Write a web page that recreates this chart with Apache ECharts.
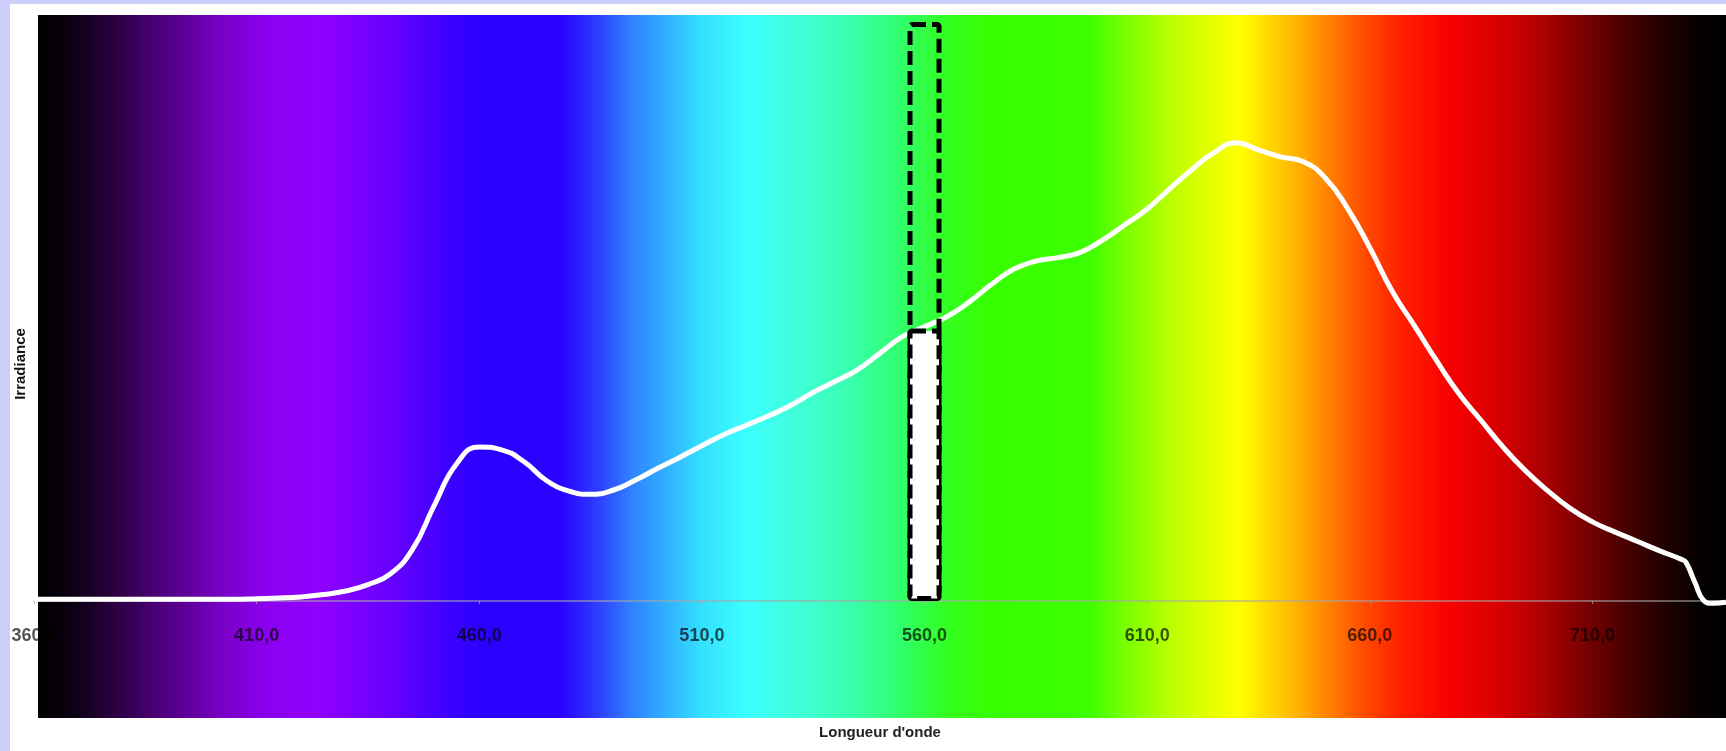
<!DOCTYPE html>
<html>
<head>
<meta charset="utf-8">
<script src="https://cdn.jsdelivr.net/npm/echarts@6/dist/echarts.min.js"></script>
<style>
  html, body { margin: 0; padding: 0; background: #cdcdfb; }
  #chart-container { width: 1726px; height: 751px; }
</style>
</head>
<body>
<div id="chart-container"></div>
<script>
var dom = document.getElementById('chart-container');
var myChart = echarts.init(dom);

// spectre mesuré (nm, irradiance relative)
var wavelengths = [360, 365, 370, 375, 380, 385, 390, 395, 400, 405, 410, 415, 420, 425, 430, 435, 440, 445,
  450, 455, 460, 465, 470, 475, 480, 485, 490, 495, 500, 505, 510, 515, 520, 525, 530, 535, 540, 545,
  550, 555, 560, 565, 570, 575, 580, 585, 590, 595, 600, 605, 610, 615, 620, 625, 630, 635, 640, 645,
  650, 655, 660, 665, 670, 675, 680, 685, 690, 695, 700, 705, 710, 715, 720, 725, 730, 731, 733, 735, 737, 740];
var irradiance = [0.3, 0.3, 0.3, 0.3, 0.3, 0.3, 0.3, 0.3, 0.3, 0.3, 0.4, 0.5, 0.7, 1.1, 1.7, 2.8, 4.6, 8.8,
  16.5, 23.5, 26.3, 25.8, 23.8, 20.6, 18.8, 18.2, 18.9, 20.6, 22.6, 24.5, 26.5, 28.4, 30.0, 31.6, 33.4, 35.6, 37.5, 39.5,
  42.3, 45.1, 46.8, 48.5, 51.0, 54.0, 56.6, 58.0, 58.6, 59.5, 61.6, 64.2, 66.9, 70.3, 73.6, 76.5, 78.2, 77.0, 75.8, 75.0,
  72.2, 67.0, 60.3, 52.9, 47.0, 41.0, 35.4, 30.8, 26.2, 22.2, 18.8, 15.8, 13.5, 11.8, 10.2, 8.6, 7.1, 6.6, 3.2, 0.1, -0.4, -0.2];

// bande sélectionnée autour de 560 nm
var bandNm = [560];
var bandFrame = [98.8];
var bandValue = [46.5];

// couleurs du fond (nm -> couleur)
var spectrumNm = [360.9, 368, 375, 384, 393, 402, 413, 424, 442, 453, 460, 478, 487, 494, 502, 510, 520, 532,
  543, 554, 565, 575, 597, 606, 615, 622, 631, 638, 644, 651, 658, 667, 678, 689, 698, 707, 716, 725, 734, 740];
var spectrumColors = ['#000000', '#0a0010', '#200030', '#400062', '#5a0092', '#7800c4', '#8c00f2', '#9000ff',
  '#6200ff', '#3c00ff', '#2c00ff', '#2a00ff', '#2e40ff', '#2f80ff', '#30b0ff', '#34e0ff', '#3cffff', '#40ffd8',
  '#38ffb0', '#30ff70', '#33ff20', '#38ff00', '#3cff00', '#80ff00', '#b8ff00', '#dcff00', '#ffff00', '#ffd400',
  '#ffb000', '#ff8000', '#ff5000', '#ff2000', '#f80000', '#d80000', '#b00000', '#800000', '#500000', '#250000',
  '#050000', '#000000'];

var stops = spectrumNm.map(function (nm, i) {
  return { offset: (nm - spectrumNm[0]) / (spectrumNm[spectrumNm.length - 1] - spectrumNm[0]), color: spectrumColors[i] };
});

var option = {
  backgroundColor: '#cdcdfb',
  animation: false,
  graphic: [
    { type: 'rect', z: -20, shape: { x: 10, y: 4, width: 1716, height: 747 }, style: { fill: '#ffffff' } },
    {
      type: 'rect', z: -10,
      shape: { x: 38, y: 15, width: 1688, height: 703 },
      style: { fill: new echarts.graphic.LinearGradient(0, 0, 1, 0, stops) }
    }
  ],
  grid: { left: 34, right: 0, top: 15, bottom: 150 },
  xAxis: {
    type: 'value',
    min: 360,
    max: 740,
    interval: 50,
    name: "Longueur d'onde",
    nameLocation: 'middle',
    nameGap: 124,
    nameTextStyle: { fontFamily: 'Liberation Sans', fontWeight: 'bold', fontSize: 15, color: '#222' },
    axisLine: { onZero: false, lineStyle: { color: 'rgba(165,165,165,0.75)', width: 1.5 } },
    axisTick: { show: true, length: 3, lineStyle: { color: 'rgba(165,165,165,0.75)' } },
    axisLabel: {
      showMaxLabel: false,
      margin: 26,
      fontFamily: 'Liberation Sans',
      fontWeight: 'bold',
      fontSize: 18,
      color: 'rgba(0,0,0,0.68)',
      formatter: function (v) { return v.toFixed(1).replace('.', ','); }
    },
    splitLine: { show: false }
  },
  yAxis: {
    type: 'value',
    min: 0,
    max: 100,
    name: 'Irradiance',
    nameLocation: 'middle',
    nameGap: 6,
    nameTextStyle: { fontFamily: 'Liberation Sans', fontWeight: 'bold', fontSize: 15, color: '#111', padding: [0, 112, 0, 0] },
    axisLine: { show: false },
    axisTick: { show: false },
    axisLabel: { show: false },
    splitLine: { show: false }
  },
  series: [
    {
      type: 'line',
      smooth: 0.5,
      clip: false,
      symbol: 'none',
      z: 2,
      lineStyle: { color: '#ffffff', width: 5 },
      data: wavelengths.map(function (nm, i) { return [nm, irradiance[i]]; })
    },
    {
      type: 'bar',
      z: 4,
      barWidth: 34,
      barGap: '-100%',
      itemStyle: { color: 'rgba(0,0,0,0)', borderColor: '#000', borderWidth: 5, borderType: [14, 6], borderRadius: 2 },
      data: bandNm.map(function (nm, i) { return [nm, bandFrame[i]]; })
    },
    {
      type: 'bar',
      z: 5,
      barWidth: 34,
      barGap: '-100%',
      itemStyle: { color: '#ffffff', borderColor: '#000', borderWidth: 5, borderType: [14, 6], borderRadius: 2 },
      data: bandNm.map(function (nm, i) { return [nm, bandValue[i]]; })
    }
  ]
};

myChart.setOption(option);
</script>
</body>
</html>
